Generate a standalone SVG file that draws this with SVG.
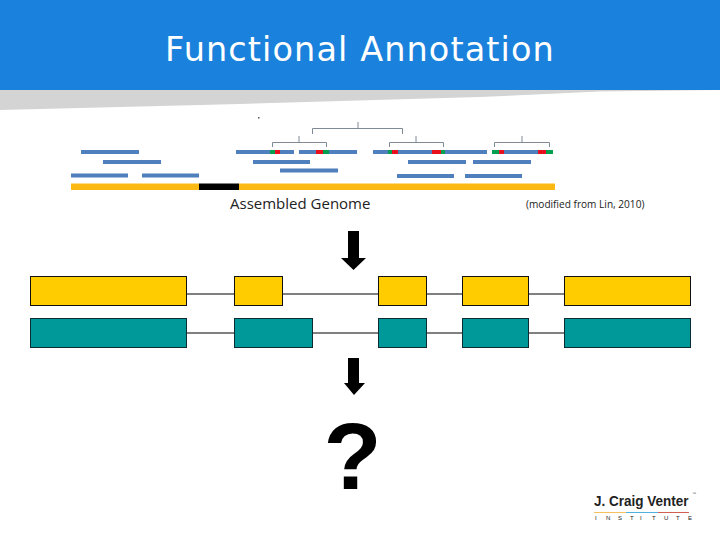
<svg xmlns="http://www.w3.org/2000/svg" width="720" height="540" viewBox="0 0 720 540">
<style>
.y{fill:#ffcc00;stroke:#111;stroke-width:1}
.t{fill:#009999;stroke:#0c2b33;stroke-width:1}
.i{stroke:#808080;stroke-width:2;fill:none}
.b{stroke:#4f7fbd;stroke-width:4;fill:none}
.r{stroke:#e8101c;stroke-width:4;fill:none}
.g{stroke:#00a050;stroke-width:4;fill:none}
.br{stroke:#7f8a94;stroke-width:1;fill:none}
.s{font-family:"Open Sans","Liberation Sans",sans-serif;fill:#222}
</style>
<rect width="720" height="540" fill="#fff"/>
<g id="header">
<polygon points="0,90 720,90 600,91.500 480,97 240,104 0,110" fill="#d4d4d4"/>
<rect width="720" height="90" fill="#1a82dc"/>
<text x="360" y="61" text-anchor="middle" font-family="DejaVu Sans,Verdana,sans-serif" font-size="33.500" fill="#fff" letter-spacing="1.100">Functional Annotation</text>
</g>
<g id="assembly">
<rect x="258" y="117" width="1.500" height="1.500" fill="#555"/>
<path class="br" d="M312.500 134V128.500H402.500V134M358 122V128.500M272.500 147V142.500H326.500V147M299 136V142.500M389.500 147V142.500H443.500V147M416 136V142.500M494.500 147V142.500H549.500V147M522 136V142.500"/>
<path class="b" d="M81 152H139M236 152H294M299 152H357M373 152H487M492 152H553M103 162H161M253 162H310M408 162H466M473 162H531M280 170.500H338M71 175.500H128M142 175.500H199M397 176H454M465 176H522"/>
<path class="r" d="M275 152H280M316 152H323M392 152H398M432 152H441M499 152H504M538 152H546"/>
<path class="g" d="M270 152H275M323 152H329M388 152H392M441 152H445M492 152H499M546 152H553"/>
<rect x="71" y="183.500" width="128" height="6.500" fill="#fdb913"/>
<rect x="199" y="183.500" width="40" height="6.500" fill="#000"/>
<rect x="239" y="183.500" width="316" height="6.500" fill="#fdb913"/>
<text class="s" x="230" y="209" font-size="15">Assembled Genome</text>
<text class="s" x="526" y="208" font-size="10.100">(modified from Lin, 2010)</text>
</g>
<g id="connectors">
<path class="i" d="M186 294H234M282 294H378M426 294H462M528 294H564M186 333H234M312 333H378M426 333H462M528 333H564"/>
</g>
<g id="gene-a">
<rect class="y" x="30.500" y="276.500" width="156" height="29"/>
<rect class="y" x="234.500" y="276.500" width="48" height="29"/>
<rect class="y" x="378.500" y="276.500" width="48" height="29"/>
<rect class="y" x="462.500" y="276.500" width="66" height="29"/>
<rect class="y" x="564.500" y="276.500" width="126" height="29"/>
</g>
<g id="gene-b">
<rect class="t" x="30.500" y="318.500" width="156" height="29"/>
<rect class="t" x="234.500" y="318.500" width="78" height="29"/>
<rect class="t" x="378.500" y="318.500" width="48" height="29"/>
<rect class="t" x="462.500" y="318.500" width="66" height="29"/>
<rect class="t" x="564.500" y="318.500" width="126" height="29"/>
</g>
<g id="arrows" fill="#000">
<polygon points="348,231 359,231 359,258 366,258 353.500,270 341,258 348,258"/>
<polygon points="348,358 359,358 359,383 365,383 354,395 344,383 348,383"/>
</g>
<g id="question">
<text x="352.500" y="489" text-anchor="middle" font-family="Liberation Sans,Arial,sans-serif" font-weight="bold" font-size="95" fill="#000">?</text>
</g>
<g id="logo">
<text transform="translate(594 506) scale(.9 1)" font-family="Liberation Sans,Arial,sans-serif" font-weight="bold" font-size="15" fill="#222">J. Craig Venter</text>
<text x="692" y="495" font-family="Liberation Sans,Arial,sans-serif" font-size="4" fill="#555">™</text>
<rect x="594" y="512" width="32" height="1" fill="#f5c060"/>
<rect x="626" y="512" width="32" height="1" fill="#50b0e0"/>
<rect x="658" y="512" width="31" height="1" fill="#d06050"/>
<text font-family="Liberation Sans,Arial,sans-serif" font-size="6" fill="#222" y="520" x="595 606 618 630 640 652 664 676 688">INSTITUTE</text>
</g>
</svg>
